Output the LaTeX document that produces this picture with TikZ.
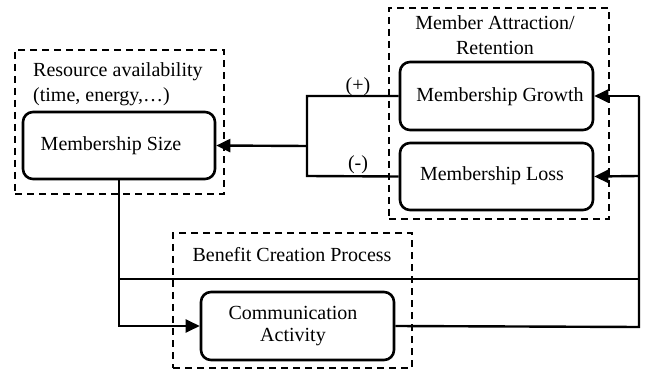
\documentclass[tikz,border=0pt]{standalone}
\usepackage{fontspec}
\setmainfont{Liberation Serif}
\usetikzlibrary{arrows.meta}
\tikzset{
  block/.style={draw, line width=2.6pt, rounded corners=10pt, inner sep=0pt, align=center},
  group/.style={draw, line width=2.1pt, dash pattern=on 7pt off 5pt, inner sep=0pt},
  label/.style={inner sep=0pt, align=center},
  link/.style={line width=2.4pt},
  flow/.style={link, -{Triangle[length=14pt, width=13pt]}},
}
\begin{document}
\begin{tikzpicture}[x=1pt, y=-1pt, font=\fontsize{20}{24}\selectfont]
\useasboundingbox (0,0) rectangle (645,371);

% dashed groupings
\node[group, minimum width=209pt, minimum height=144pt] (resgrp) at (119.5,122) {};
\node[group, minimum width=220pt, minimum height=211pt] (attrgrp) at (499,113.5) {};
\node[group, minimum width=239pt, minimum height=135pt] (bengrp) at (292.5,300.5) {};

% group titles
\node[label, anchor=west] (restitle) at (33,72) {Resource availability};
\node[label, anchor=west] (restitle2) at (33,97) {(time, energy,\ldots)};
\node[label] (attrtitle) at (495,23) {Member Attraction/};
\node[label] (attrtitle2) at (495,48) {Retention};
\node[label] (bentitle) at (292,255) {Benefit Creation Process};

% process blocks
\node[block, minimum width=192pt, minimum height=67pt] (size) at (119,145.5) {};
\node[label] (sizetext) at (111,146) {Membership Size};
\node[block, minimum width=193pt, minimum height=68pt] (growth) at (496.5,96) {};
\node[label] (growthtext) at (500,97) {Membership Growth};
\node[block, minimum width=193pt, minimum height=67pt] (loss) at (496.5,176.5) {};
\node[label] (losstext) at (492,176) {Membership Loss};
\node[block, minimum width=193pt, minimum height=68pt] (comm) at (297.5,326) {};
\node[label] (commtext) at (293,326) {Communication\\[-2pt]Activity};

% junction of growth and loss
\coordinate (jp) at (307,96);
\coordinate (jm) at (307,176);
\coordinate (jc) at (307,146);
\draw[link] (growth.west) -- (jp) -- (jm) -- (loss.west);
\draw[flow] (jc) -- (size.east);
\node[label] (plus) at (358,87) {(+)};
\node[label] (minus) at (358,165) {(-)};

% feedback from communication activity
\coordinate (rt) at (639,96);
\coordinate (rm) at (639,176);
\coordinate (rb) at (639,327);
\draw[link] (comm.east) -- (rb) -- (rt);
\draw[flow] (rt) -- (growth.east);
\draw[flow] (rm) -- (loss.east);

% from membership size to communication activity
\coordinate (lb) at (size.south |- comm.west);
\coordinate (lh) at (119,279);
\coordinate (rh) at (639,279);
\draw[flow] (size.south) -- (lb) -- (comm.west);
\draw[link] (lh) -- (rh);
\end{tikzpicture}
\end{document}
